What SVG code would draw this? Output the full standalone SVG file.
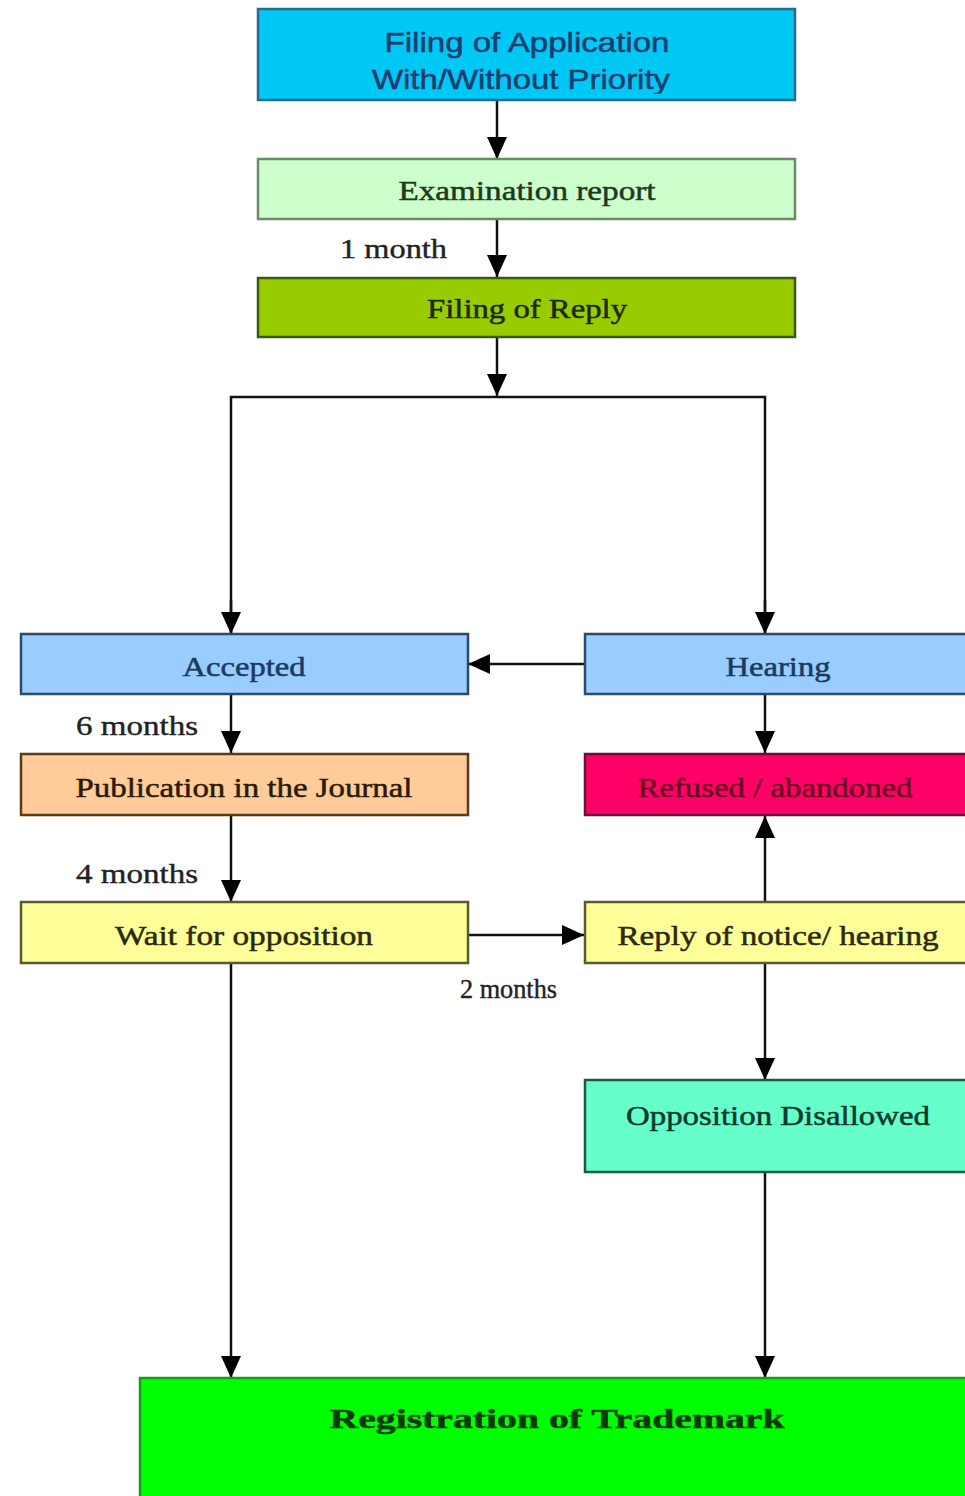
<svg xmlns="http://www.w3.org/2000/svg" width="965" height="1496" viewBox="0 0 965 1496">
<style>
.box{stroke-width:2.5}
.t{font-family:"Liberation Serif","Times New Roman",serif;font-size:28px;text-anchor:middle;stroke-width:0.5}
.s{font-family:"Liberation Sans",Arial,sans-serif;font-size:28px;text-anchor:middle;fill:#1a3c6e;stroke:#1a3c6e;stroke-width:0.5}
.lbl{font-family:"Liberation Serif","Times New Roman",serif;font-size:27px;fill:#222;stroke:#222;stroke-width:0.4}
.ln{stroke:#111;stroke-width:2.5;fill:none}
</style>
<defs>
<marker id="a" viewBox="0 0 22 20" refX="22" refY="10" markerWidth="22" markerHeight="20" markerUnits="userSpaceOnUse" orient="auto">
<path d="M0,0 L22,10 L0,20 z" fill="#000"/>
</marker>
<clipPath id="c1"><rect x="258" y="9" width="537" height="85"/></clipPath>
</defs>
<rect width="965" height="1496" fill="#fff"/>
<g id="connectors">
<line class="ln" x1="497" y1="100" x2="497" y2="159" marker-end="url(#a)"/>
<line class="ln" x1="497" y1="219" x2="497" y2="277" marker-end="url(#a)"/>
<line class="ln" x1="497" y1="337" x2="497" y2="396" marker-end="url(#a)"/>
<polyline class="ln" points="231,634 231,397 765,397 765,634"/>
<line class="ln" x1="231" y1="600" x2="231" y2="634" marker-end="url(#a)"/>
<line class="ln" x1="765" y1="600" x2="765" y2="634" marker-end="url(#a)"/>
<line class="ln" x1="585" y1="664" x2="468" y2="664" marker-end="url(#a)"/>
<line class="ln" x1="231" y1="694" x2="231" y2="753" marker-end="url(#a)"/>
<line class="ln" x1="765" y1="694" x2="765" y2="753" marker-end="url(#a)"/>
<line class="ln" x1="231" y1="815" x2="231" y2="902" marker-end="url(#a)"/>
<line class="ln" x1="468" y1="935" x2="584" y2="935" marker-end="url(#a)"/>
<line class="ln" x1="765" y1="902" x2="765" y2="816" marker-end="url(#a)"/>
<line class="ln" x1="765" y1="963" x2="765" y2="1080" marker-end="url(#a)"/>
<line class="ln" x1="765" y1="1172" x2="765" y2="1378" marker-end="url(#a)"/>
<line class="ln" x1="231" y1="963" x2="231" y2="1378" marker-end="url(#a)"/>
<text class="lbl" x="340" y="258" textLength="107" lengthAdjust="spacingAndGlyphs">1 month</text>
<text class="lbl" x="76" y="735" textLength="122" lengthAdjust="spacingAndGlyphs">6 months</text>
<text class="lbl" x="76" y="883" textLength="122" lengthAdjust="spacingAndGlyphs">4 months</text>
<text class="lbl" x="460" y="998" font-size="20" textLength="97" lengthAdjust="spacingAndGlyphs">2 months</text>
</g>
<g id="n-filing">
<rect class="box" x="258" y="9" width="537" height="91" fill="#00c8f5" stroke="#2a6a8a"/>
<g clip-path="url(#c1)">
<text class="s" x="527" y="52" textLength="285" lengthAdjust="spacingAndGlyphs">Filing of Application</text>
<text class="s" x="521" y="89" textLength="298" lengthAdjust="spacingAndGlyphs">With/Without Priority</text>
</g>
</g>
<g id="n-exam">
<rect class="box" x="258" y="159" width="537" height="60" fill="#ccffcc" stroke="#6a8a6a"/>
<text class="t" x="527" y="200" fill="#1e3a1e" stroke="#1e3a1e" textLength="257" lengthAdjust="spacingAndGlyphs">Examination report</text>
</g>
<g id="n-reply">
<rect class="box" x="258" y="278" width="537" height="59" fill="#99cc00" stroke="#3a5a10"/>
<text class="t" x="527" y="318" fill="#1a2a08" stroke="#1a2a08" textLength="200" lengthAdjust="spacingAndGlyphs">Filing of Reply</text>
</g>
<g id="n-accepted">
<rect class="box" x="21" y="634" width="447" height="60" fill="#99ccff" stroke="#2a4a6a"/>
<text class="t" x="244" y="676" fill="#1a3a5e" stroke="#1a3a5e" textLength="123" lengthAdjust="spacingAndGlyphs">Accepted</text>
</g>
<g id="n-hearing">
<rect class="box" x="585" y="634" width="385" height="60" fill="#99ccff" stroke="#2a4a6a"/>
<text class="t" x="778" y="676" fill="#1a3a5e" stroke="#1a3a5e" textLength="105" lengthAdjust="spacingAndGlyphs">Hearing</text>
</g>
<g id="n-publication">
<rect class="box" x="21" y="754" width="447" height="61" fill="#ffcc99" stroke="#5a3a1a"/>
<text class="t" x="244" y="797" fill="#2a1a0a" stroke="#2a1a0a" textLength="337" lengthAdjust="spacingAndGlyphs">Publication in the Journal</text>
</g>
<g id="n-refused">
<rect class="box" x="585" y="754" width="385" height="61" fill="#ff0066" stroke="#6a1030"/>
<text class="t" x="775" y="797" fill="#6a0a20" stroke="#6a0a20" textLength="275" lengthAdjust="spacingAndGlyphs">Refused / abandoned</text>
</g>
<g id="n-wait">
<rect class="box" x="21" y="902" width="447" height="61" fill="#ffff99" stroke="#5a5a2a"/>
<text class="t" x="244" y="945" fill="#2a2a0a" stroke="#2a2a0a" textLength="258" lengthAdjust="spacingAndGlyphs">Wait for opposition</text>
</g>
<g id="n-replynotice">
<rect class="box" x="585" y="902" width="385" height="61" fill="#ffff99" stroke="#5a5a2a"/>
<text class="t" x="778" y="945" fill="#2a2a0a" stroke="#2a2a0a" textLength="321" lengthAdjust="spacingAndGlyphs">Reply of notice/ hearing</text>
</g>
<g id="n-disallowed">
<rect class="box" x="585" y="1080" width="385" height="92" fill="#66ffcc" stroke="#1a5a4a"/>
<text class="t" x="778" y="1125" fill="#0a3a2a" stroke="#0a3a2a" textLength="304" lengthAdjust="spacingAndGlyphs">Opposition Disallowed</text>
</g>
<g id="n-registration">
<rect x="140" y="1378" width="830" height="125" fill="#00ff00" stroke="#1a9a1a" stroke-width="2.5"/>
<text class="t" x="557" y="1428" font-size="36" font-weight="bold" fill="#0a3a0a" stroke="#0a3a0a" textLength="455" lengthAdjust="spacingAndGlyphs">Registration of Trademark</text>
</g>
</svg>
